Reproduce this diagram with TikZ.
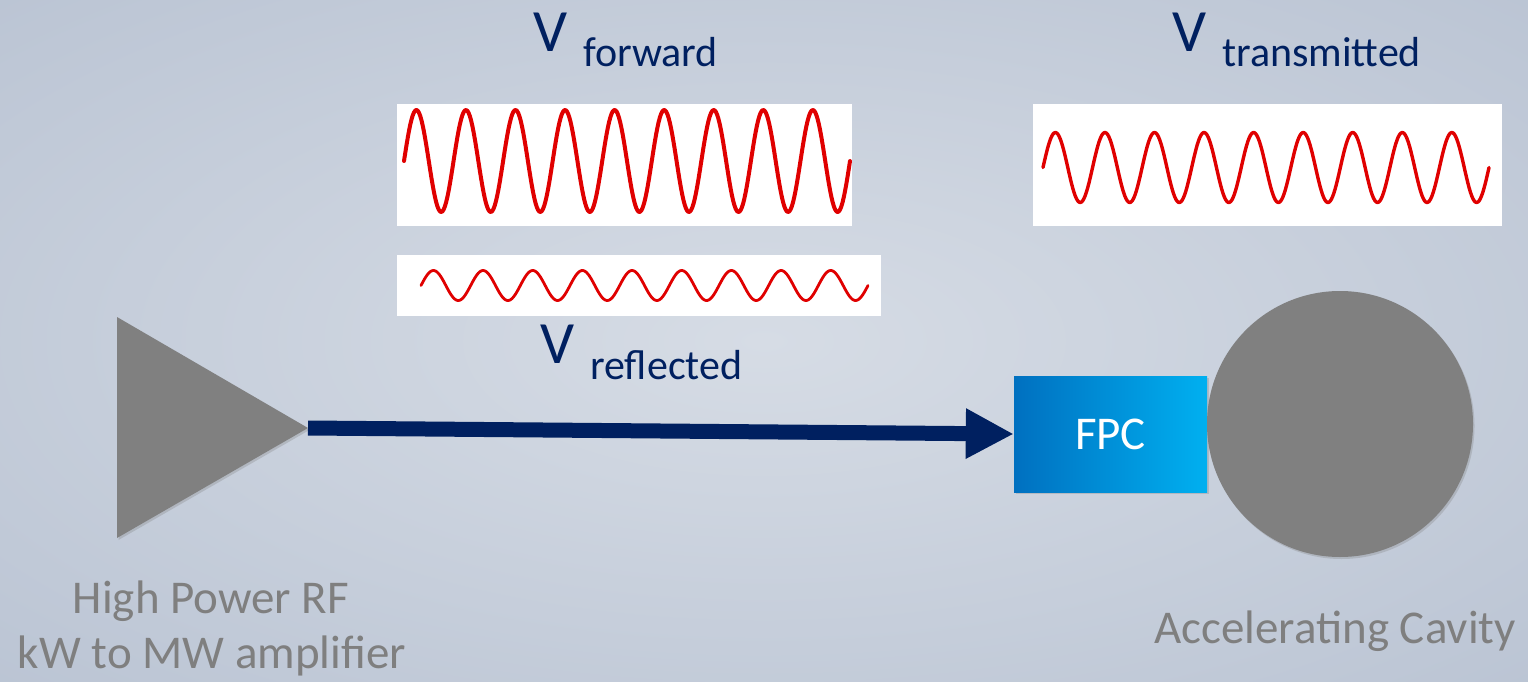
\documentclass[tikz,border=0pt]{standalone}
\usepackage{fontspec}
\setmainfont{Carlito}
\usetikzlibrary{arrows.meta,shadows}
\definecolor{bgc}{HTML}{D6DCE5}
\definecolor{bge}{HTML}{B0BBCD}
\definecolor{bgk}{HTML}{A0AEC5}
\definecolor{navy}{HTML}{002060}
\definecolor{wavered}{HTML}{E00000}
\definecolor{greyshape}{HTML}{808080}
\definecolor{labelgrey}{HTML}{7F7F7F}
\definecolor{fpcleft}{HTML}{0070C0}
\definecolor{fpcright}{HTML}{00B0F0}
\pgfdeclareradialshading{bgshade}{\pgfpoint{0bp}{0bp}}{color(0bp)=(bgc); color(50bp)=(bge); color(71bp)=(bgk)}
\tikzset{
  panel/.style={fill=white, draw=none, inner sep=0pt, anchor=north west},
  wave/.style={draw=wavered, line cap=round, line join=round},
  bigv/.style={text=navy, inner sep=0pt, anchor=base west, font=\fontsize{60}{60}\selectfont},
  subv/.style={text=navy, inner sep=0pt, anchor=base west, font=\fontsize{42}{42}\selectfont},
  greylabel/.style={text=labelgrey, inner sep=0pt, font=\fontsize{47}{55}\selectfont},
  shade/.style={drop shadow={opacity=0.3, shadow xshift=1.5pt, shadow yshift=-2pt}},
  link/.style={draw=navy, line width=15pt, -{Triangle[length=48pt, width=47pt]}},
}
\begin{document}
\begin{tikzpicture}[x=1pt, y=-1pt]
\useasboundingbox (0,0) rectangle (1528,682);
\fill[shading=bgshade] (0,0) rectangle (1528,682);

% wave panels
\node[panel, minimum width=455pt, minimum height=122pt] (fwdbox) at (397,104) {};
\node[panel, minimum width=484pt, minimum height=61pt] (refbox) at (397,255) {};
\node[panel, minimum width=469pt, minimum height=122pt] (trbox) at (1033,104) {};

\draw[wave, line width=4pt] plot[domain=0:446, samples=360] ({404+\x},{161-51*sin(\x*7.2645)});
\draw[wave, line width=2.8pt] plot[domain=0:447, samples=360] ({421+\x},{285.5-15*sin(\x*7.2483)});
\draw[wave, line width=3.4pt] plot[domain=0:446, samples=360] ({1043+\x},{167.5-35*sin(\x*7.2645)});

% labels
\node[bigv] (vf) at (533,52) {V};
\node[subv] (vfs) at (583,67) {forward};
\node[bigv] (vt) at (1172,52) {V};
\node[subv] (vts) at (1222,67) {transmitted};
\node[bigv] (vr) at (540,363) {V};
\node[subv] (vrs) at (590,379) {reflected};

% amplifier
\fill[greyshape, shade] (117,317) -- (308,428) -- (117,538) -- cycle;
\coordinate (amptip) at (308,428);

% FPC and cavity
\node[shade, inner sep=0pt, minimum width=193pt, minimum height=116pt, left color=fpcleft, right color=fpcright, text=white, font=\fontsize{47}{47}\selectfont] (fpc) at (1110.5,434) {FPC};
\node[shade, circle, fill=greyshape, inner sep=0pt, minimum size=266pt] (cavity) at (1340,424) {};

\draw[link] (amptip) -- (fpc.west);

\node[greylabel, anchor=base] (amplabel) at (211,613) {High Power RF};
\node[greylabel, anchor=base] (amplabel2) at (212,668) {kW to MW amplifier};
\node[greylabel, anchor=base] (cavlabel) at (1335,643) {Accelerating Cavity};
\end{tikzpicture}
\end{document}
